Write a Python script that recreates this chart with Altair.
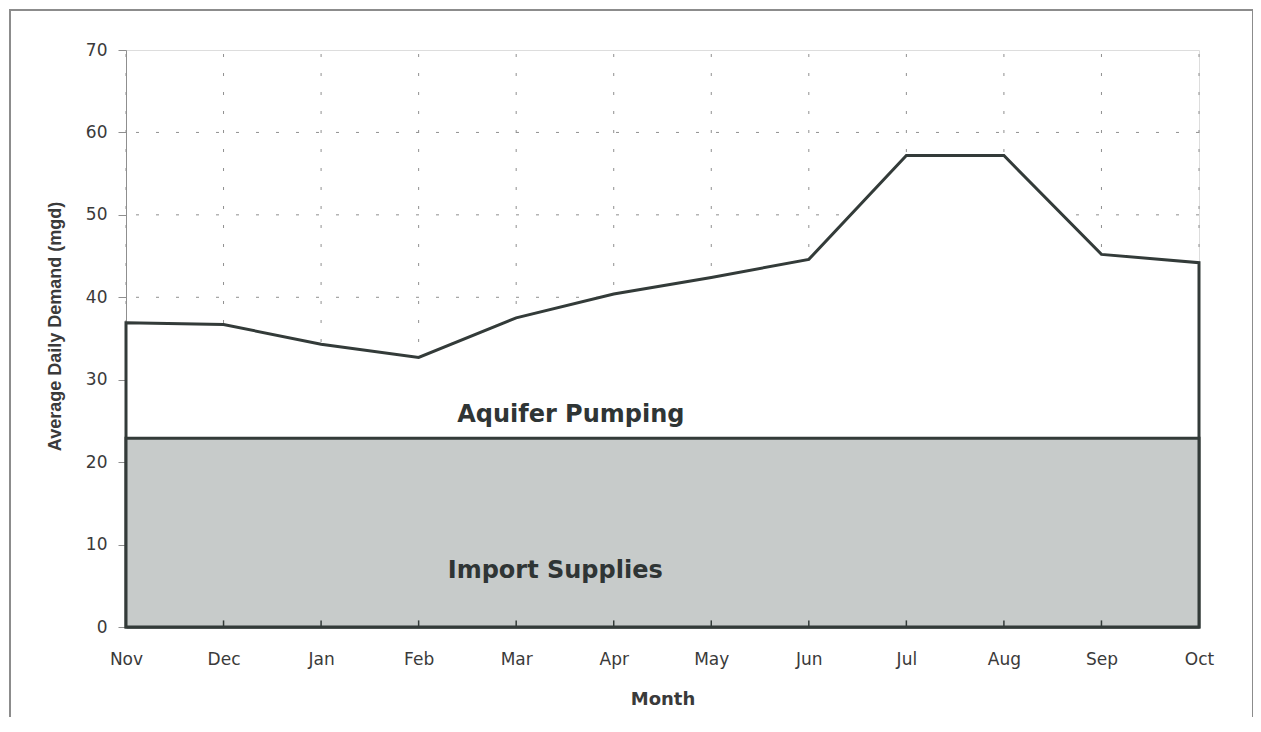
import json
import altair as alt
import pandas as pd

# ---- data ----
months = ["Nov", "Dec", "Jan", "Feb", "Mar", "Apr", "May", "Jun", "Jul", "Aug", "Sep", "Oct"]
total_demand = [36.9, 36.7, 34.3, 32.7, 37.5, 40.4, 42.4, 44.6, 57.2, 57.2, 45.2, 44.2]
import_supply = [22.9, 22.9, 22.9, 22.9, 22.9, 22.9, 22.9, 22.9, 22.9, 22.9, 22.9, 22.9]
y_ticks = [0, 10, 20, 30, 40, 50, 60, 70]
y_grid = [10, 20, 30, 40, 50, 60]

label_text = ["Aquifer Pumping", "Import Supplies"]
label_x = [4.56, 4.40]
label_y = [24.9, 5.9]

df = pd.DataFrame({
    "i": list(range(len(months))),
    "month": months,
    "total": total_demand,
    "imp": import_supply,
})
grid_df = pd.DataFrame({"g": y_grid})
lab_df = pd.DataFrame({"t": label_text, "lx": label_x, "ly": label_y})

W, H = 1073, 577
DARK = "#333b39"
TXT = "#3a3a3a"
GRID = "#8f8f8f"

month_js = json.dumps(months)
xscale = alt.Scale(domain=[0, len(months) - 1], nice=False, zero=False)
yscale = alt.Scale(domain=[0, 70], nice=False)

xaxis = alt.Axis(
    values=list(range(len(months))),
    labelExpr=f"{month_js}[datum.value]",
    labelFlush=False, labelOverlap=False, labelBound=False,
    grid=False, ticks=False, domain=True, domainColor=DARK, domainWidth=2,
    labelFont="DejaVu Sans", labelFontSize=17, labelColor=TXT, labelPadding=24,
    title="Month", titleFont="DejaVu Sans", titleFontSize=18, titleFontWeight="bold",
    titleColor=TXT, titleX=W / 2, titleY=72, titleBaseline="middle", titleAlign="center",
)
yaxis = alt.Axis(
    values=y_ticks, grid=False, ticks=True, tickSize=8, tickColor=GRID, tickWidth=1,
    domain=True, domainColor=GRID, domainWidth=1,
    labelFont="DejaVu Sans", labelFontSize=17, labelColor=TXT, labelPadding=11,
    title="Average Daily Demand (mgd)", titleFont="Liberation Sans", titleFontSize=18,
    titleFontWeight="bold", titleColor=TXT, titleX=-71, titleY=276,
    titleBaseline="middle", titleAlign="center",
)

X = lambda f="i": alt.X(f"{f}:Q", scale=xscale, axis=xaxis)
Y = lambda f: alt.Y(f"{f}:Q", scale=yscale, axis=yaxis)

base = alt.Chart(df)

frame = alt.Chart(df).mark_rect(fillOpacity=0, stroke="#8c8c8c", strokeWidth=1.5, clip=False).encode(
    x=alt.value(-116), x2=alt.value(1127), y=alt.value(-40), y2=alt.value(720)
)

hgrid = alt.Chart(grid_df).mark_rule(color=GRID, strokeWidth=1, strokeDash=[3, 17]).encode(
    y=Y("g")
)
vgrid = base.mark_rule(color=GRID, strokeWidth=1, strokeDash=[3, 16]).encode(
    x=X(), y=alt.datum(0, scale=yscale), y2=alt.datum(70)
)

total_area = base.mark_area(fill="white", stroke=DARK, strokeWidth=3, strokeJoin="miter").encode(
    x=X(), y=Y("total")
)
import_area = base.mark_area(fill="#c7cbca", stroke=DARK, strokeWidth=3).encode(
    x=X(), y=Y("imp")
)
xticks = base.mark_rule(color=DARK, strokeWidth=1.5).encode(
    x=X(), y=alt.datum(0, scale=yscale), y2=alt.datum(0.8)
)
labels = alt.Chart(lab_df).mark_text(
    font="DejaVu Sans", fontSize=24, fontWeight="bold", color="#2f3535",
    align="center", baseline="alphabetic"
).encode(x=X("lx"), y=Y("ly"), text="t:N")

chart = alt.layer(frame, hgrid, vgrid, total_area, import_area, xticks, labels).properties(
    width=W, height=H,
    autosize=alt.AutoSizeParams(type="none"),
    padding={"left": 118, "top": 42, "right": 54, "bottom": 90},
).configure_view(stroke=GRID, strokeWidth=1).configure(background="white")

chart.save("out.html", embed_options={"renderer": "svg", "actions": False})
